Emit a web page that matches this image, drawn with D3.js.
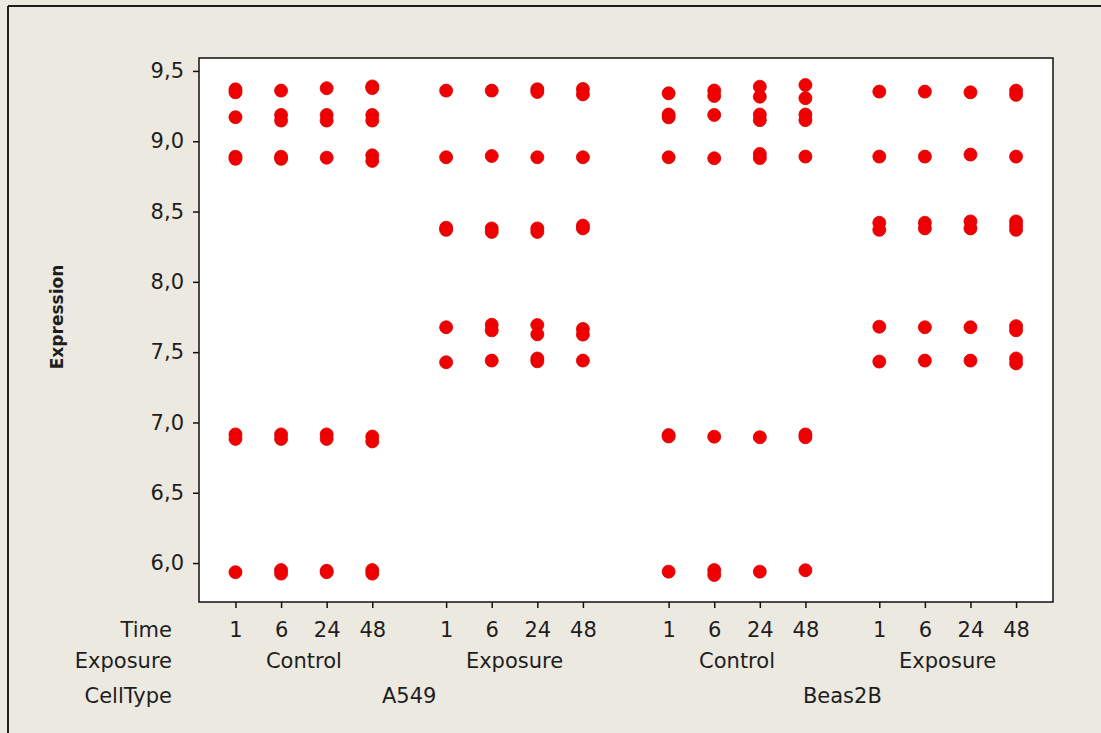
<!DOCTYPE html>
<html>
<head>
<meta charset="utf-8">
<script src="https://cdn.jsdelivr.net/npm/d3@7"></script>
<style>
  html, body { margin: 0; padding: 0; background: #ece9e0; }
  svg { display: block; }
  text { font-family: "DejaVu Sans", sans-serif; fill: #1e1e1e; }
</style>
</head>
<body>
<script>
// categories
var cellTypes = ["A549", "Beas2B"];
var exposures = ["Control", "Exposure"];
var times = [1, 6, 24, 48];
var yTicks = [6.0, 6.5, 7.0, 7.5, 8.0, 8.5, 9.0, 9.5];

// expression values, one list per time point (1, 6, 24, 48)
var a549Control = [
    [9.369, 9.348, 9.171, 8.89, 8.875, 6.915, 6.883, 5.935],
    [9.360, 9.187, 9.147, 8.89, 8.875, 6.915, 6.883, 5.95, 5.925],
    [9.377, 9.187, 9.147, 8.883, 6.915, 6.883, 5.945, 5.935],
    [9.39, 9.378, 9.187, 9.147, 8.90, 8.86, 6.90, 6.865, 5.95, 5.925]
];
var a549Exposure = [
    [9.360, 8.886, 8.385, 8.37, 7.677, 7.428],
    [9.360, 8.895, 8.38, 8.355, 7.695, 7.655, 7.440],
    [9.37, 9.35, 8.886, 8.38, 8.355, 7.693, 7.627, 7.455, 7.435],
    [9.372, 9.333, 8.886, 8.40, 8.38, 7.665, 7.625, 7.440]
];
var beasControl = [
    [9.341, 9.19, 9.17, 8.886, 6.91, 6.90, 5.939],
    [9.361, 9.322, 9.187, 8.879, 6.899, 5.95, 5.915],
    [9.388, 9.317, 9.19, 9.15, 8.91, 8.88, 6.895, 5.939],
    [9.400, 9.306, 9.19, 9.15, 8.891, 6.915, 6.895, 5.949]
];
var beasExposure = [
    [9.353, 8.891, 8.42, 8.37, 7.681, 7.433],
    [9.353, 8.891, 8.42, 8.38, 7.677, 7.44],
    [9.348, 8.905, 8.43, 8.38, 7.677, 7.44],
    [9.36, 9.33, 8.891, 8.43, 8.40, 8.37, 7.685, 7.655, 7.455, 7.42]
];
var groups = [a549Control, a549Exposure, beasControl, beasExposure];

var width = 1101, height = 733;
var plot = {left: 199, top: 58, right: 1053, bottom: 602};

// x position in "slot" units: 4 per group plus extra gaps between groups
var expGap = 0.62, cellGap = 0.88;
function slot(g, t) {
    var extra = (g >= 1 ? expGap : 0) + (g >= 2 ? cellGap : 0) + (g >= 3 ? expGap : 0);
    return g * 4 + t + extra;
}

var x = d3.scaleLinear().domain([-0.8, 17.93]).range([plot.left, plot.right]);
var y = d3.scaleLinear().domain([5.723, 9.592]).range([plot.bottom, plot.top]);

var svg = d3.select("body").append("svg")
    .attr("width", width)
    .attr("height", height);

// outer frame (left + top visible)
svg.append("line").attr("x1", 8).attr("y1", 6).attr("x2", 8).attr("y2", height)
    .attr("stroke", "#1e1e1e").attr("stroke-width", 2);
svg.append("line").attr("x1", 8).attr("y1", 6).attr("x2", width).attr("y2", 6)
    .attr("stroke", "#1e1e1e").attr("stroke-width", 2);

svg.append("rect")
    .attr("x", plot.left).attr("y", plot.top)
    .attr("width", plot.right - plot.left).attr("height", plot.bottom - plot.top)
    .attr("fill", "#ffffff").attr("stroke", "#111").attr("stroke-width", 1.5);

// y axis
var yAxis = d3.axisLeft(y)
    .tickValues(yTicks)
    .tickSize(6)
    .tickPadding(9)
    .tickFormat(function(d) { return d3.format(".1f")(d).replace(".", ","); });
var gy = svg.append("g").attr("transform", "translate(" + plot.left + ",0)").call(yAxis);
gy.select(".domain").remove();
gy.selectAll("line").attr("stroke", "#111").attr("stroke-width", 1.5);
gy.selectAll("text").style("font-size", "21px").attr("fill", "#1e1e1e")
    .style("font-family", "DejaVu Sans, sans-serif");

// x axis (time ticks)
var tickPos = [], tickLab = [];
groups.forEach(function(g, gi) {
    times.forEach(function(t, ti) {
        tickPos.push(slot(gi, ti));
        tickLab.push(t);
    });
});
var xAxis = d3.axisBottom(x)
    .tickValues(tickPos)
    .tickSize(6)
    .tickPadding(14)
    .tickFormat(function(d, i) { return tickLab[i]; });
var gx = svg.append("g").attr("transform", "translate(0," + plot.bottom + ")").call(xAxis);
gx.select(".domain").remove();
gx.selectAll("line").attr("stroke", "#111").attr("stroke-width", 1.5);
gx.selectAll("text").style("font-size", "21px").attr("fill", "#1e1e1e")
    .style("font-family", "DejaVu Sans, sans-serif");

// row labels
var rowNames = ["Time", "Exposure", "CellType"];
var rowY = [637, 668, 703];
svg.selectAll("text.rowname")
    .data(rowNames)
    .enter()
    .append("text")
    .classed("rowname", true)
    .attr("x", 172)
    .attr("y", function(d, i) { return rowY[i]; })
    .attr("text-anchor", "end")
    .style("font-size", "21px")
    .text(function(d) { return d; });

// exposure labels
groups.forEach(function(g, gi) {
    svg.append("text")
        .attr("x", x((slot(gi, 0) + slot(gi, 3)) / 2))
        .attr("y", rowY[1])
        .attr("text-anchor", "middle")
        .style("font-size", "21px")
        .text(exposures[gi % 2]);
});

// cell type labels
cellTypes.forEach(function(c, ci) {
    svg.append("text")
        .attr("x", x((slot(ci * 2, 0) + slot(ci * 2 + 1, 3)) / 2))
        .attr("y", rowY[2])
        .attr("text-anchor", "middle")
        .style("font-size", "21px")
        .text(c);
});

// y label
svg.append("text")
    .attr("transform", "translate(63,317) rotate(-90)")
    .attr("text-anchor", "middle")
    .style("font-size", "17px")
    .style("font-weight", "bold")
    .text("Expression");

// points
var pts = [];
groups.forEach(function(g, gi) {
    g.forEach(function(vals, ti) {
        vals.forEach(function(v) {
            pts.push({pos: slot(gi, ti), value: v});
        });
    });
});
svg.append("g").selectAll("circle")
    .data(pts)
    .enter()
    .append("circle")
    .attr("cx", function(d) { return x(d.pos); })
    .attr("cy", function(d) { return y(d.value); })
    .attr("r", 6.5)
    .attr("fill", "#f00000")
    .attr("stroke", "#d80000")
    .attr("stroke-width", 0.8);
</script>
</body>
</html>
